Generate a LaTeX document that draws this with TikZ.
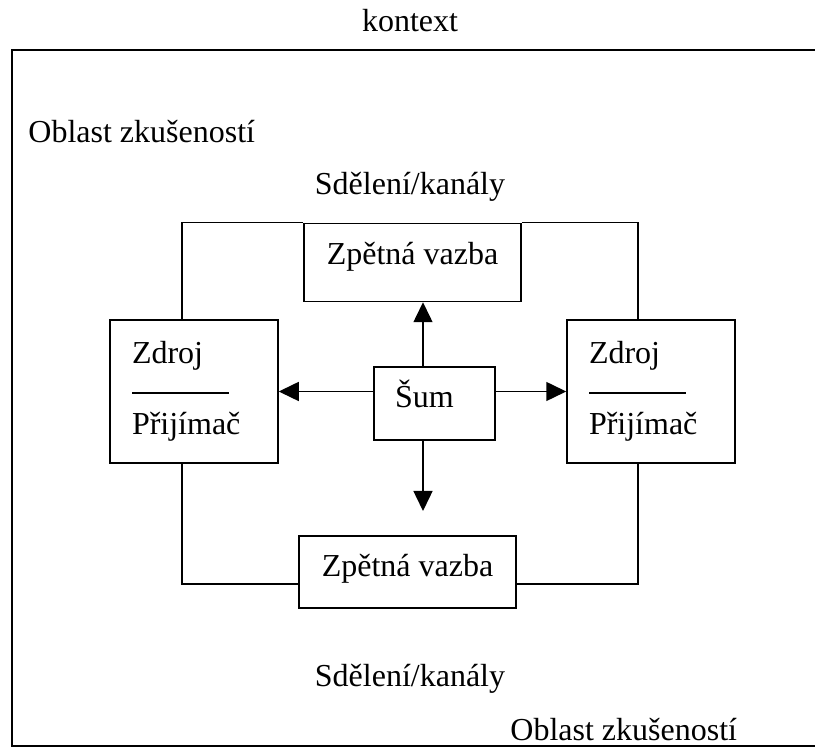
\documentclass[tikz,border=0pt]{standalone}
\usepackage{fontspec}
\setmainfont{Liberation Serif}
\usetikzlibrary{arrows.meta,positioning}

\begin{document}
\begin{tikzpicture}[x=0.5pt, y=-0.5pt,
      font=\fontsize{16}{17.75}\selectfont,
      box/.style={draw, line width=0.75pt, inner xsep=0pt, inner ysep=9.5pt,
                  text height=11pt, text depth=6pt, minimum width=108.5pt},
      agent/.style={draw, line width=0.75pt, align=left, text width=62pt,
                    inner xsep=11pt, minimum height=71.5pt},
      lbl/.style={inner sep=0pt, anchor=base},
      >={Triangle[length=10pt, width=9.5pt]}]
    \useasboundingbox (0,0) rectangle (815,747);
    % outer frame, open to the right
    \draw[line width=1pt] (830,50.5) -- (12,50.5) -- (12,746) -- (830,746);
    \node[lbl] (ctx) at (410,32) {kontext};
    \node[lbl, anchor=base west] (areaA) at (28,143) {Oblast zkušeností};
    \node[lbl] (msgA) at (410,195) {Sdělení/kanály};
    \node[lbl] (msgB) at (410,687) {Sdělení/kanály};
    \node[lbl, anchor=base west] (areaB) at (510,741) {Oblast zkušeností};
    % boxes
    \node[box, text depth=9pt] (fbtop) at (412.5,262.5) {Zpětná vazba};
    \node[box] (fbbot) at (407.5,572) {Zpětná vazba};
    \node[box, align=left, text width=39.5pt, minimum width=0pt, inner xsep=10.5pt,
          text depth=6.5pt] (noise) at (434.5,403.5) {Šum};
    \node[agent] (lsrc) at (194,391.5) {Zdroj\\\rule[2.7pt]{48.5pt}{0.75pt}\\Přijímač};
    \node[agent] (rsrc) at (651,391.5) {Zdroj\\\rule[2.7pt]{48.5pt}{0.75pt}\\Přijímač};
    % loop through the feedback boxes
    \draw[line width=0.75pt] ([xshift=-6pt]lsrc.north) |- (fbtop.north west);
    \draw[line width=0.75pt] (fbtop.north east) -| ([xshift=-6.5pt]rsrc.north);
    \draw[line width=0.75pt] ([xshift=-6pt]lsrc.south) |- ([yshift=-6pt]fbbot.west);
    \draw[line width=0.75pt] ([yshift=-6pt]fbbot.east) -| ([xshift=-6.5pt]rsrc.south);
    % noise arrows
    \coordinate (dn) at (423,511);
    \draw[->, line width=0.75pt] (noise.west |- lsrc.east) -- (lsrc.east);
    \draw[->, line width=0.75pt] (noise.east |- rsrc.west) -- (rsrc.west);
    \draw[->, line width=0.75pt] ([xshift=-5.75pt]noise.north)
        -- ([xshift=-5.75pt]noise.north |- fbtop.south);
    \draw[->, line width=0.75pt] ([xshift=-5.75pt]noise.south) -- (dn);
  \end{tikzpicture}
\end{document}
